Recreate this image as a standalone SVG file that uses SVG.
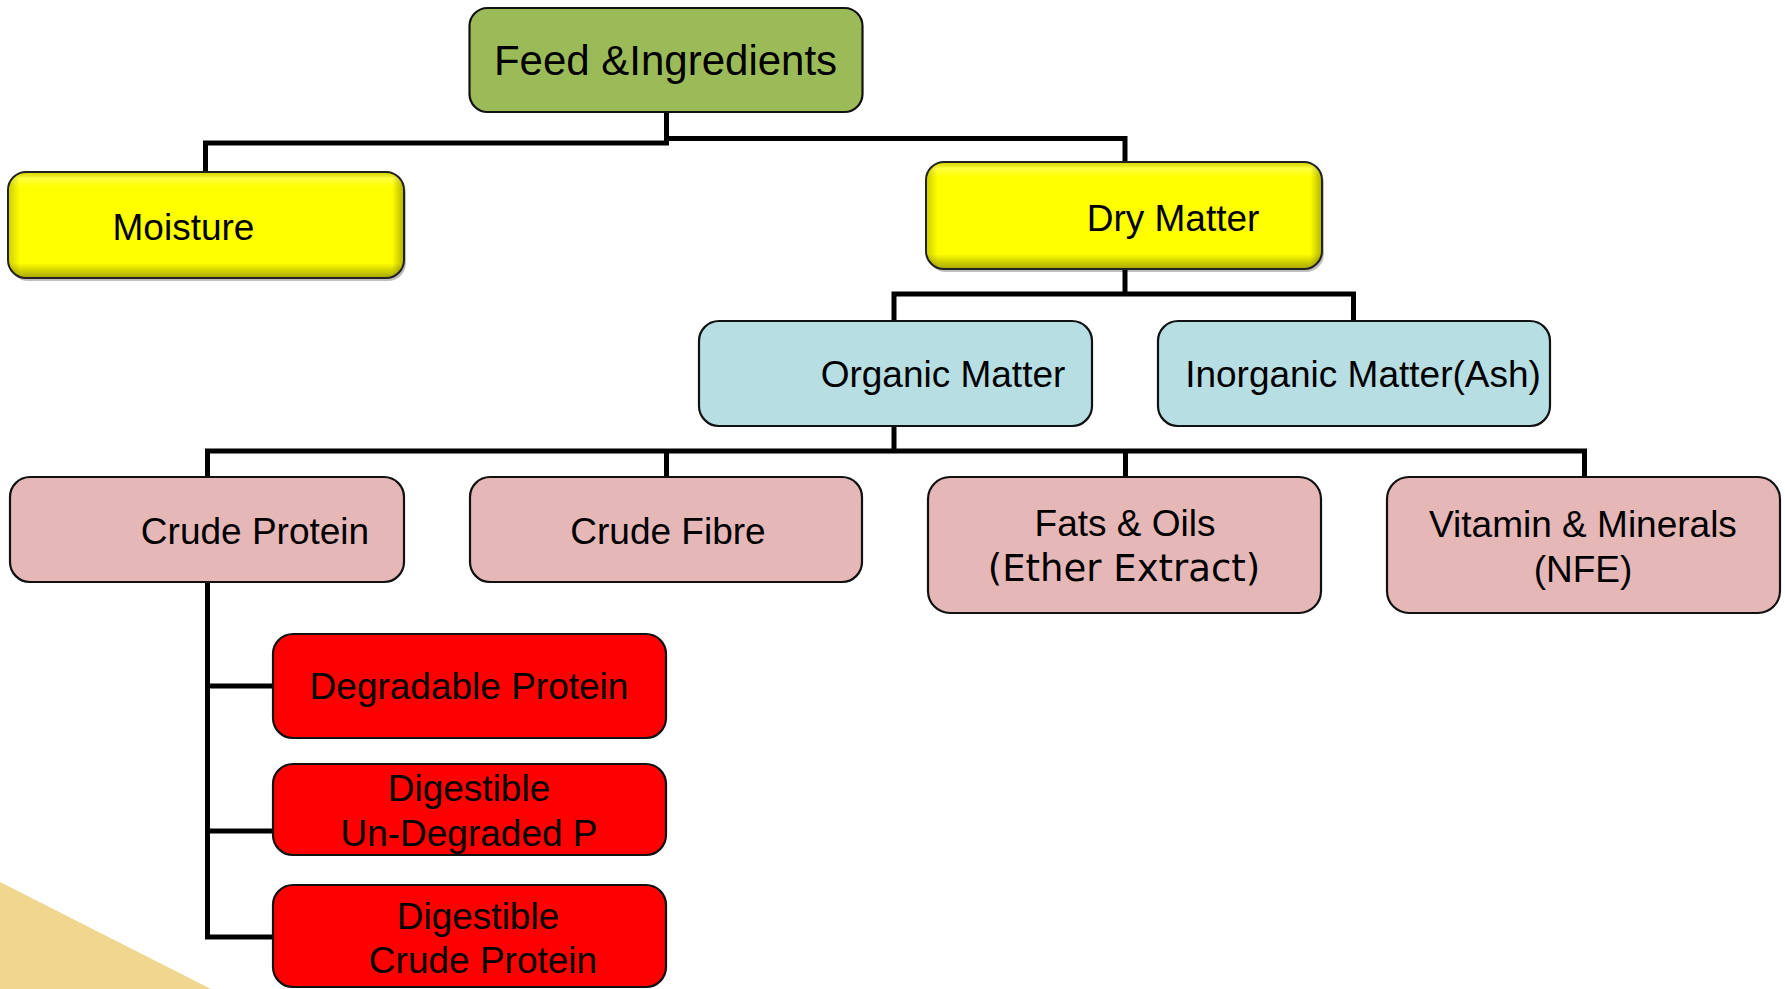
<svg xmlns="http://www.w3.org/2000/svg" width="1785" height="989" viewBox="0 0 1785 989">
<defs>
<linearGradient id="bevV" x1="0" y1="0" x2="0" y2="1">
<stop offset="0" stop-color="#000" stop-opacity="0.15"/>
<stop offset="0.06" stop-color="#fff" stop-opacity="0.25"/>
<stop offset="0.14" stop-color="#fff" stop-opacity="0"/>
<stop offset="0.86" stop-color="#000" stop-opacity="0"/>
<stop offset="1" stop-color="#000" stop-opacity="0.35"/>
</linearGradient>
<linearGradient id="bevH" x1="0" y1="0" x2="1" y2="0">
<stop offset="0" stop-color="#000" stop-opacity="0.2"/>
<stop offset="0.03" stop-color="#000" stop-opacity="0"/>
<stop offset="0.97" stop-color="#000" stop-opacity="0"/>
<stop offset="1" stop-color="#000" stop-opacity="0.3"/>
</linearGradient>
<style>
.box{stroke:#111;stroke-width:2.2}
.green{fill:#9BBB59}
.yellow{fill:#FFFF00}
.blue{fill:#B7DEE3}
.pink{fill:#E6B7B7}
.red{fill:#FF0000}
.t{font-family:"Liberation Sans",Arial,sans-serif;font-size:37px;fill:#000;text-anchor:middle}
.d{font-family:"DejaVu Sans",sans-serif;font-size:37px;fill:#000;text-anchor:middle}
.c{fill:none;stroke:#000;stroke-width:5;stroke-linecap:square;stroke-linejoin:miter}
</style>
</defs>
<rect width="1785" height="989" fill="#fff"/>
<polygon points="0,882 211,989 0,989" fill="#F1D68F"/>

<g id="connectors">
<path class="c" d="M666.5,112 V143 H205.5 V172"/>
<path class="c" d="M666.5,138.5 H1125 V162"/>
<path class="c" d="M1125,269 V294 M894,321 V294 H1353.5 V321"/>
<path class="c" d="M894,426 V451 M207.5,477 V451 H1584.5 V477 M666.5,451 V477 M1125.5,451 V477"/>
<path class="c" d="M207.5,582 V937 H272 M207.5,686 H272 M207.5,831 H272"/>
</g>

<g id="feed">
<rect class="box green" x="469.5" y="8" width="393" height="104" rx="18"/>
<text class="t" x="665.5" y="75" style="font-size:42px">Feed &amp;Ingredients</text>
</g>

<g id="moisture">
<rect x="10" y="175" width="396" height="106" rx="18" fill="#000" opacity="0.25"/>
<rect class="yellow" x="8" y="172" width="396" height="106" rx="18"/>
<rect x="8" y="172" width="396" height="106" rx="18" fill="url(#bevV)"/>
<rect x="8" y="172" width="396" height="106" rx="18" fill="url(#bevH)"/>
<rect x="8" y="172" width="396" height="106" rx="18" fill="none" stroke="#222" stroke-width="2"/>
<text class="t" x="183.5" y="240">Moisture</text>
</g>

<g id="dry-matter">
<rect x="928" y="165" width="396" height="107" rx="18" fill="#000" opacity="0.25"/>
<rect class="yellow" x="926" y="162" width="396" height="107" rx="18"/>
<rect x="926" y="162" width="396" height="107" rx="18" fill="url(#bevV)"/>
<rect x="926" y="162" width="396" height="107" rx="18" fill="url(#bevH)"/>
<rect x="926" y="162" width="396" height="107" rx="18" fill="none" stroke="#222" stroke-width="2"/>
<text class="t" x="1173" y="231">Dry Matter</text>
</g>

<g id="organic-matter">
<rect class="box blue" x="699" y="321" width="393" height="105" rx="20"/>
<text class="t" x="943" y="387">Organic Matter</text>
</g>

<g id="inorganic-matter">
<rect class="box blue" x="1158" y="321" width="392" height="105" rx="20"/>
<text class="t" x="1363" y="387">Inorganic Matter(Ash)</text>
</g>

<g id="crude-protein">
<rect class="box pink" x="10" y="477" width="394" height="105" rx="20"/>
<text class="t" x="255" y="544">Crude Protein</text>
</g>

<g id="crude-fibre">
<rect class="box pink" x="470" y="477" width="392" height="105" rx="20"/>
<text class="t" x="668" y="544">Crude Fibre</text>
</g>

<g id="fats-oils">
<rect class="box pink" x="928" y="477" width="393" height="136" rx="22"/>
<text class="t" x="1125" y="536">Fats &amp; Oils</text>
<text class="d" x="1124" y="581">(Ether Extract)</text>
</g>

<g id="vitamin-minerals">
<rect class="box pink" x="1387" y="477" width="393" height="136" rx="22"/>
<text class="t" x="1583" y="537">Vitamin &amp; Minerals</text>
<text class="t" x="1583" y="582">(NFE)</text>
</g>

<g id="degradable-protein">
<rect class="box red" x="273" y="634" width="393" height="104" rx="20"/>
<text class="t" x="469" y="699">Degradable Protein</text>
</g>

<g id="digestible-undegraded">
<rect class="box red" x="273" y="764" width="393" height="91" rx="20"/>
<text class="t" x="469" y="801">Digestible</text>
<text class="t" x="469" y="846">Un-Degraded P</text>
</g>

<g id="digestible-crude-protein">
<rect class="box red" x="273" y="885" width="393" height="102" rx="20"/>
<text class="t" x="478" y="929">Digestible</text>
<text class="t" x="483" y="973">Crude Protein</text>
</g>
</svg>
